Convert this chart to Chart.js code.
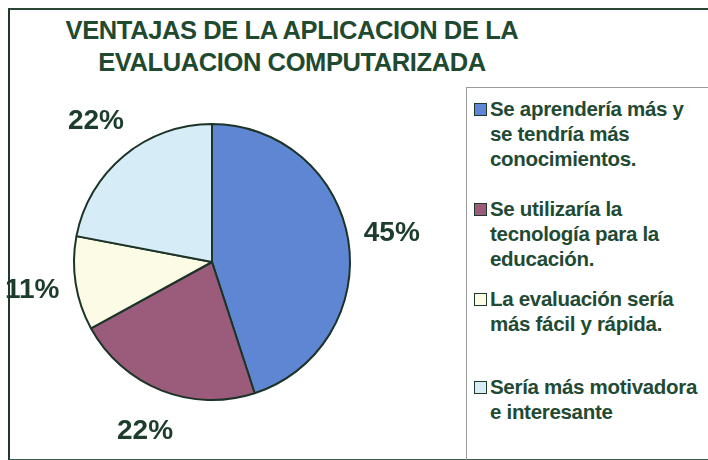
<!DOCTYPE html>
<html>
<head>
<meta charset="utf-8">
<script src="https://cdn.jsdelivr.net/npm/chart.js@4/dist/chart.umd.min.js"></script>
<style>
  html, body { margin: 0; padding: 0; background: #fff; }
  #wrap { position: relative; width: 708px; height: 460px; overflow: hidden; background: #fff;
          font-family: "Liberation Sans", Arial, sans-serif; color: #1d4431; }
  #frame { position: absolute; left: 8px; top: 8px; width: 760px; height: 449px;
           border-left: 2px solid #1f3a2c; border-top: 2px solid #2a4634; border-bottom: 2px solid #3c5a48; }
  #title { position: absolute; left: 20px; width: 544px; top: 14px; text-align: center;
           font-weight: bold; font-size: 25.5px; line-height: 32px; letter-spacing: -0.4px; color: #1f4a30; }
  #pie { position: absolute; left: 0; top: 80px; }
  #legend { position: absolute; left: 466px; top: 87px; width: 300px; height: 400px;
            border-left: 1px solid #9a9a9a; border-top: 1px solid #9a9a9a; }
  .item { position: absolute; left: 7px; font-size: 20.5px; font-weight: bold; line-height: 25px; color: #1f4a34; }
  .item .box { position: absolute; left: 0; top: 7px; width: 11px; height: 11px; border: 1px solid #1f3a2c; }
  .item .txt { margin-left: 16px; letter-spacing: -0.3px; }
  .item:nth-child(1) { top: 8px; }
  .item:nth-child(2) { top: 108px; }
  .item:nth-child(3) { top: 198px; }
  .item:nth-child(4) { top: 286px; }
</style>
</head>
<body>
<div id="wrap">
  <div id="frame"></div>
  <div id="title">VENTAJAS DE LA APLICACION DE LA<br>EVALUACION COMPUTARIZADA</div>
  <canvas id="pie" width="424" height="364"></canvas>
  <div id="legend"></div>
</div>
<script>
var categorias = [
  ['Se aprendería más y', 'se tendría más', 'conocimientos.'],
  ['Se utilizaría la', 'tecnología para la', 'educación.'],
  ['La evaluación sería', 'más fácil y rápida.'],
  ['Sería más motivadora', 'e interesante']
];
var porcentajes = [45, 22, 11, 22];
var colores = ['#5f86d3', '#9a5c7a', '#fbfbe6', '#d6ecf7'];

// legend (html, built from the arrays)
var legend = document.getElementById('legend');
for (var i = 0; i < categorias.length; i++) {
  var it = document.createElement('div');
  it.className = 'item';
  var b = document.createElement('div');
  b.className = 'box';
  b.style.background = colores[i];
  var t = document.createElement('div');
  t.className = 'txt';
  t.innerHTML = categorias[i].join('<br>');
  it.appendChild(b);
  it.appendChild(t);
  legend.appendChild(it);
}

// percentage labels outside the slices
var etiquetas = {
  id: 'etiquetas',
  afterDatasetsDraw: function (chart) {
    var ctx = chart.ctx;
    var meta = chart.getDatasetMeta(0);
    ctx.save();
    ctx.font = 'bold 28px "Liberation Sans", Arial, sans-serif';
    ctx.fillStyle = '#1d3d2c';
    ctx.textAlign = 'center';
    ctx.textBaseline = 'middle';
    meta.data.forEach(function (arc, i) {
      var p = arc.getProps(['x', 'y', 'startAngle', 'endAngle', 'outerRadius'], true);
      var a = (p.startAngle + p.endAngle) / 2;
      var d = p.outerRadius + 44;
      ctx.fillText(porcentajes[i] + '%', p.x + Math.cos(a) * d, p.y + Math.sin(a) * d);
    });
    ctx.restore();
  }
};

var ctx = document.getElementById('pie').getContext('2d');
var chart = new Chart(ctx, {
  type: 'pie',
  data: {
    labels: categorias,
    datasets: [{
      data: porcentajes,
      backgroundColor: colores,
      borderColor: '#1c3328',
      borderWidth: 2
    }]
  },
  options: {
    responsive: false,
    animation: false,
    layout: { padding: 43 },
    plugins: {
      legend: { display: false },
      tooltip: { enabled: false },
      title: { display: false }
    }
  },
  plugins: [etiquetas]
});
</script>
</body>
</html>
